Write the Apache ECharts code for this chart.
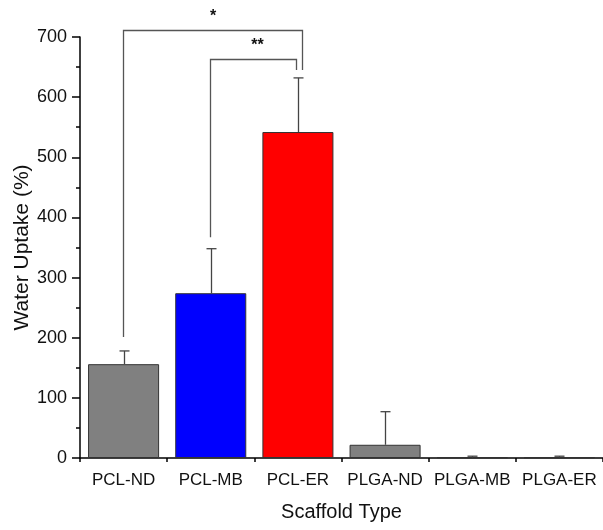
<!DOCTYPE html>
<html>
<head>
<meta charset="utf-8">
<script src="https://cdn.jsdelivr.net/npm/echarts@6/dist/echarts.min.js"></script>
<style>
   html, body { margin: 0; padding: 0; background: #fff; }
   #chart { width: 603px; height: 530px; }
</style>
</head>
<body>
<div id="chart"></div>
<script>
const categories = ["PCL-ND", "PCL-MB", "PCL-ER", "PLGA-ND", "PLGA-MB", "PLGA-ER"];
const means = [156, 274, 542, 22, 1, 1];
const errors = [22, 74, 90, 55, 2, 2];
const barColors = ["#808080", "#0000ff", "#ff0000", "#808080", "#808080", "#808080"];
const yTicks = [0, 100, 200, 300, 400, 500, 600, 700];
// significance brackets: [from index, to index, top value, left leg end, right leg end]
const brackets = [
   [0, 2, 712, 201, 645],
   [1, 2, 663, 367, 645],
];
const bracketLabels = ["*", "**"];
const bracketRightShift = [4, -2];

const chart = echarts.init(document.getElementById('chart'));
const font = 'Liberation Sans, Arial, sans-serif';

const option = {
   animation: false,
   grid: { left: 80, right: 0, top: 37, bottom: 72, outerBoundsMode: 'none', containLabel: false },
   xAxis: [
      {
         type: 'category',
         data: categories,
         name: 'Scaffold Type',
         nameLocation: 'middle',
         nameGap: 44,
         nameTextStyle: { fontFamily: font, fontSize: 20, color: '#111' },
         axisLine: { lineStyle: { color: '#000', width: 1.5 } },
         axisTick: { alignWithLabel: true, length: 8, lineStyle: { color: '#000', width: 1.5 } },
         axisLabel: { fontFamily: font, fontSize: 17, color: '#111', margin: 14, interval: 0 },
      },
      {
         type: 'value',
         min: 0,
         max: 6,
         interval: 1,
         position: 'bottom',
         axisLine: { show: false },
         axisTick: { show: true, length: 4, lineStyle: { color: '#000', width: 1.5 } },
         axisLabel: { show: false },
         splitLine: { show: false },
      }
   ],
   yAxis: {
      type: 'value',
      min: 0,
      max: 700,
      interval: 100,
      name: 'Water Uptake (%)',
      nameLocation: 'middle',
      nameGap: 47,
      nameMoveOverlap: false,
      nameTextStyle: { fontFamily: font, fontSize: 21, color: '#111' },
      axisLine: { show: true, lineStyle: { color: '#000', width: 1.5 } },
      axisTick: { show: true, inside: false, length: 8, lineStyle: { color: '#000', width: 1.5 } },
      minorTick: { show: true, splitNumber: 2, length: 4, lineStyle: { color: '#000', width: 1.5 } },
      axisLabel: {
         fontFamily: font, fontSize: 18, color: '#111', margin: 13,
         formatter: (v) => yTicks.includes(v) ? String(v) : ''
      },
      splitLine: { show: false },
   },
   series: [
      {
         type: 'bar',
         barWidth: '81.5%',
         data: means.map((v, i) => ({
            value: v,
            itemStyle: { color: barColors[i], borderColor: '#333', borderWidth: 1 }
         })),
         z: 2,
      },
      {
         type: 'custom',
         data: means.map((v, i) => [i, v, v + errors[i]]),
         z: 3,
         renderItem: (params, api) => {
            const base = api.coord([api.value(0), api.value(1)]);
            const top = api.coord([api.value(0), api.value(2)]);
            const x = Math.round(base[0]) + 0.5;
            const style = { stroke: '#444', lineWidth: 1.3 };
            return {
               type: 'group',
               children: [
                  { type: 'line', shape: { x1: x, y1: base[1], x2: x, y2: top[1] }, style },
                  { type: 'line', shape: { x1: x - 5, y1: top[1], x2: x + 5, y2: top[1] }, style },
               ]
            };
         }
      },
      {
         type: 'custom',
         data: brackets,
         clip: false,
         z: 3,
         renderItem: (params, api) => {
            const i = params.dataIndex;
            const topL = api.coord([api.value(0), api.value(2)]);
            const topR = api.coord([api.value(1), api.value(2)]);
            const botL = api.coord([api.value(0), api.value(3)]);
            const botR = api.coord([api.value(1), api.value(4)]);
            const xl = Math.round(topL[0]) - 0.5;
            const xr = Math.round(topR[0]) + bracketRightShift[i] + 0.5;
            const yt = Math.round(topL[1]) + 0.5;
            return {
               type: 'group',
               children: [
                  {
                     type: 'polyline',
                     shape: { points: [[xl, botL[1]], [xl, yt], [xr, yt], [xr, botR[1]]] },
                     style: { stroke: '#555', lineWidth: 1.3, fill: null }
                  },
                  {
                     type: 'text',
                     style: {
                        text: bracketLabels[i],
                        x: (xl + xr) / 2 + (i === 1 ? 4 : 0),
                        y: yt - 14,
                        align: 'center',
                        verticalAlign: 'middle',
                        fontFamily: font,
                        fontSize: 16,
                        fontWeight: 'bold',
                        fill: '#111'
                     }
                  }
               ]
            };
         }
      }
   ]
};
chart.setOption(option);
</script>
</body>
</html>
